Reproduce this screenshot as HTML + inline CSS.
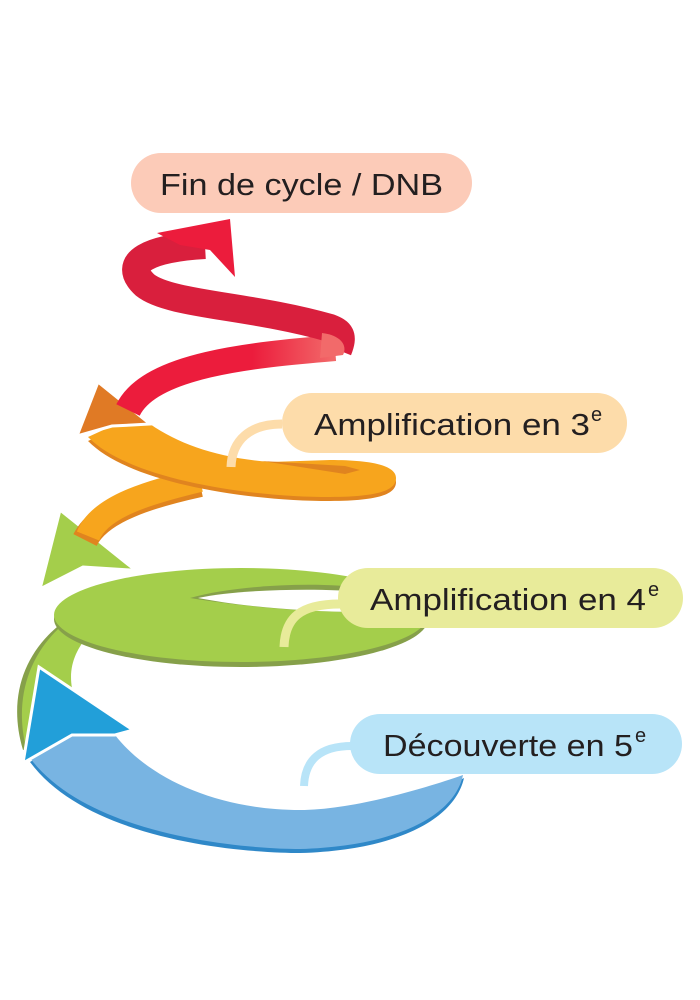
<!DOCTYPE html>
<html><head><meta charset="utf-8"><style>
html,body{margin:0;padding:0;background:#fff;}
svg{display:block}
text{font-family:"Liberation Sans",sans-serif;fill:#231f20}
</style></head><body>
<svg width="700" height="1000" viewBox="0 0 700 1000" xmlns="http://www.w3.org/2000/svg">
<defs>
<linearGradient id="rg" x1="0" x2="1" y1="0" y2="0">
<stop offset="0" stop-color="#ec1c3c"/><stop offset="0.6" stop-color="#ec1c3c"/><stop offset="1" stop-color="#f26a6a"/>
</linearGradient>
</defs>

<!-- Green connecting strip -->
<path d="M77,613 C30,640 5,690 23,750 L68,745 C62,720 60,700 70,690 C65,660 80,640 97,625 Z" fill="#86a04a"/>
<path d="M80,612 C35,640 12,690 26,748 L70,742 C64,715 62,700 72,688 C67,660 82,640 99,624 Z" fill="#a4ce4b"/>

<!-- Blue band -->
<path d="M30,762 C90,843 250,853 300,853 C400,850 455,818 464,778 L440,790 C400,805 350,812 300,812 C220,812 150,782 115,737 L72,737 Z" fill="#2f88c8"/>
<path d="M30,758 C90,838 250,849 300,849 C400,846 455,814 463,775 C420,790 350,810 300,810 C220,810 150,780 115,735 L72,735 Z" fill="#78b4e2"/>
<!-- blue arrow -->
<polygon points="39,667 133,730 115,735 72,735 23,763" fill="#229fd9" stroke="#fff" stroke-width="3"/>

<!-- Green ring -->
<ellipse cx="241" cy="619" rx="187" ry="48" fill="#86a04a"/>
<ellipse cx="241" cy="615" rx="187" ry="47" fill="#a4ce4b"/>
<path d="M190,598 C240,584 320,582 365,588 L365,612 C300,612 240,606 190,598 Z" fill="#86a04a"/>
<path d="M198,598 C240,589 320,588 365,592 L365,612 C300,612 240,606 198,598 Z" fill="#fff"/>
<!-- green arrow -->
<polygon points="60,510 135,570 130,570 83,567 40,589" fill="#a4ce4b" stroke="#fff" stroke-width="3"/>

<!-- Orange connecting strip -->
<path d="M200,484 C150,495 100,510 85,540" fill="none" stroke="#e0841f" stroke-width="26"/>
<path d="M200,480 C150,492 100,506 88,536" fill="none" stroke="#f7a51d" stroke-width="24"/>
<!-- Orange band -->
<path d="M88,441 C130,484 250,501 330,501 C385,501 396,492 396,482 C396,469 370,464 330,464 L270,466 C220,462 180,449 150,428 L112,430 Z" fill="#e0841f"/>
<path d="M88,437 C130,480 250,497 330,497 C385,497 396,488 396,478 C396,465 370,460 330,460 L270,462 C220,458 180,445 150,424 L112,426 Z" fill="#f7a51d"/>
<path d="M262,461 L345,466 L360,470 L345,474 Z" fill="#e0841f"/>
<!-- orange arrow -->
<polygon points="98,382 150,424 132,425 112,426 77,436" fill="#e07a25" stroke="#fff" stroke-width="3"/>

<!-- Red ribbon -->
<path d="M128,410 C150,365 250,355 335,348" fill="none" stroke="url(#rg)" stroke-width="26"/>
<path d="M338,350 C344,335 340,332 330,328 C250,305 170,305 145,285 C120,262 150,248 205,245" fill="none" stroke="#d91f3d" stroke-width="28"/>
<path d="M322,333 C340,335 348,345 343,355 L320,358 Z" fill="#f26a6a"/>
<!-- red arrow -->
<polygon points="157,233 230,219 235,277 210,250 180,245" fill="#ec1c3c"/>

<!-- connectors -->
<path d="M231,467 C232,440 250,424 282,424" fill="none" stroke="#fddcaa" stroke-width="9"/>
<path d="M284,647 C285,618 300,604 340,604" fill="none" stroke="#e8eb9a" stroke-width="9"/>
<path d="M304,786 C305,760 320,746 352,746" fill="none" stroke="#b8e4f8" stroke-width="8"/>

<!-- pills -->
<rect x="131" y="153" width="341" height="60" rx="30" fill="#fccbb8"/>
<text x="160" y="195" font-size="31" textLength="283" lengthAdjust="spacingAndGlyphs">Fin de cycle / DNB</text>

<rect x="282" y="393" width="345" height="60" rx="30" fill="#fddcaa"/>
<text x="314" y="435" font-size="31" textLength="276" lengthAdjust="spacingAndGlyphs">Amplification en 3</text>
<text x="591" y="421" font-size="20">e</text>

<rect x="338" y="568" width="345" height="60" rx="30" fill="#e8eb9a"/>
<text x="370" y="610" font-size="31" textLength="276" lengthAdjust="spacingAndGlyphs">Amplification en 4</text>
<text x="648" y="596" font-size="20">e</text>

<rect x="350" y="714" width="332" height="60" rx="30" fill="#b8e4f8"/>
<text x="383" y="756" font-size="31" textLength="250" lengthAdjust="spacingAndGlyphs">Découverte en 5</text>
<text x="635" y="742" font-size="20">e</text>
</svg>
</body></html>
